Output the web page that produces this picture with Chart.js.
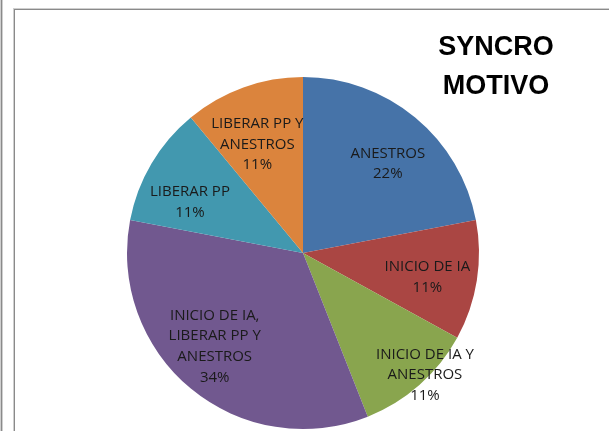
<!DOCTYPE html>
<html>
<head>
<meta charset="utf-8">
<script src="https://cdn.jsdelivr.net/npm/chart.js@4"></script>
<style>
  html, body { margin: 0; padding: 0; background: #fff; }
  body { width: 609px; height: 431px; position: relative; overflow: hidden; }
  #leftLine { position: absolute; left: 1px; top: 0; width: 1px; height: 431px;
    background: #8a8a8a; box-shadow: 0 0 0 1px #cfcfcf; }
  #frame { position: absolute; left: 14px; top: 9px; width: 700px; height: 500px;
    border: 1px solid #8a8a8a; box-shadow: 0 0 0 1px #cfcfcf; }
  #title { position: absolute; left: 421px; top: 27px; width: 150px; text-align: center;
    font: bold 27px "Liberation Sans", Arial, sans-serif; line-height: 38.5px; color: #000; }
  #chart { position: absolute; left: 0; top: 0; }
</style>
</head>
<body>
<div id="leftLine"></div>
<div id="frame"></div>
<canvas id="chart" width="609" height="431"></canvas>
<div id="title">SYNCRO<br>MOTIVO</div>
<script>
// categories (split into the lines shown on the slices)
const categories = [
  ["ANESTROS"],
  ["INICIO DE IA"],
  ["INICIO DE IA Y", "ANESTROS"],
  ["INICIO DE IA,", "LIBERAR PP Y", "ANESTROS"],
  ["LIBERAR PP"],
  ["LIBERAR PP Y", "ANESTROS"]
];
// percent per category
const values = [22, 11, 11, 34, 11, 11];

const colors = ["#4673a8", "#aa4643", "#89a54e", "#71588f", "#4298af", "#db843d"];
// where each label sits: fraction of radius, and turn from the slice middle (degrees)
const labelRadius = [0.70, 0.72, 0.98, 0.73, 0.705, 0.67];
const labelTurn = [3.9, 2, -3.6, 3.8, -6.3, -3];

const sliceLabels = {
  id: "sliceLabels",
  afterDatasetsDraw(chart) {
    const ctx = chart.ctx;
    const meta = chart.getDatasetMeta(0);
    const total = values.reduce((a, b) => a + b, 0);
    ctx.save();
    ctx.font = '15px "Open Sans", sans-serif';
    ctx.fillStyle = "#1a1a1a";
    ctx.textAlign = "center";
    ctx.textBaseline = "middle";
    meta.data.forEach((arc, i) => {
      const mid = (arc.startAngle + arc.endAngle) / 2 + labelTurn[i] * Math.PI / 180;
      const r = arc.outerRadius * labelRadius[i];
      const x = arc.x + Math.cos(mid) * r;
      const y = arc.y + Math.sin(mid) * r;
      const lines = categories[i].concat([Math.round(values[i] / total * 100) + "%"]);
      const lh = 20.7;
      const top = y - (lines.length - 1) * lh / 2;
      lines.forEach((t, k) => ctx.fillText(t, x, top + k * lh));
    });
    ctx.restore();
  }
};

new Chart(document.getElementById("chart"), {
  type: "pie",
  data: {
    labels: categories,
    datasets: [{
      data: values,
      backgroundColor: colors,
      borderWidth: 0
    }]
  },
  options: {
    responsive: false,
    animation: false,
    layout: { padding: { left: 127, right: 130, top: 77, bottom: 2 } },
    plugins: {
      legend: { display: false },
      tooltip: { enabled: false }
    }
  },
  plugins: [sliceLabels]
});
</script>
</body>
</html>
